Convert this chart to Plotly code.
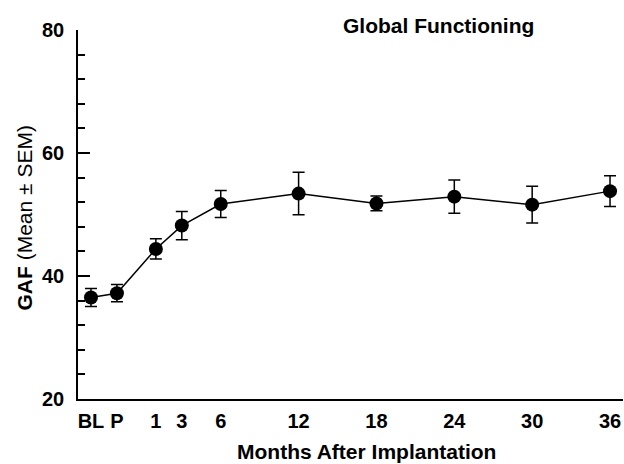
import plotly.graph_objects as go

tick_labels = ["BL", "P", "1", "3", "6", "12", "18", "24", "30", "36"]
months = [-4, -2, 1, 3, 6, 12, 18, 24, 30, 36]
gaf_mean = [36.5, 37.2, 44.4, 48.2, 51.7, 53.4, 51.8, 52.9, 51.6, 53.8]
gaf_sem = [1.45, 1.4, 1.65, 2.3, 2.2, 3.45, 1.2, 2.7, 3.0, 2.5]

FONT = "Liberation Sans, Arial, sans-serif"

fig = go.Figure()
fig.add_trace(go.Scatter(
    x=months, y=gaf_mean,
    mode="lines+markers",
    line=dict(color="black", width=1.5),
    marker=dict(symbol="circle", size=14, color="black"),
    error_y=dict(type="data", array=gaf_sem, visible=True,
                 color="black", thickness=1.5, width=6),
    showlegend=False,
))

fig.update_layout(
    width=624, height=464,
    margin=dict(l=78, r=1, t=30, b=65),
    paper_bgcolor="white", plot_bgcolor="white",
    font=dict(family=FONT, color="black"),
    xaxis=dict(
        range=[-5, 37], showgrid=False, zeroline=False,
        showline=True, linecolor="black", linewidth=1.5,
        tickmode="array", tickvals=months, ticktext=tick_labels,
        ticks="", tickfont=dict(size=20, weight="bold", family=FONT),
        ticklabelstandoff=3,
    ),
    yaxis=dict(
        range=[20, 80], showgrid=False, zeroline=False,
        showline=True, linecolor="black", linewidth=1.5,
        tickmode="array", tickvals=[20, 40, 60, 80],
        ticks="inside", ticklen=12, tickwidth=1.5, tickcolor="black",
        minor=dict(dtick=4, ticks="inside", ticklen=7, tickwidth=1.5, tickcolor="black"),
        tickfont=dict(size=20, weight="bold", family=FONT),
        ticklabelstandoff=8,
    ),
    annotations=[
        dict(text="<b>Global Functioning</b>", xref="paper", yref="paper",
             x=0, xshift=438 - 78, y=1, yshift=5, xanchor="center", yanchor="middle",
             showarrow=False, font=dict(size=21, family=FONT)),
        dict(text="<b>Months After Implantation</b>", xref="paper", yref="paper",
             x=0, xshift=366 - 78, y=0, yshift=-52, xanchor="center", yanchor="middle",
             showarrow=False, font=dict(size=21, family=FONT)),
        dict(text="<b>GAF</b> (Mean ± SEM)", xref="paper", yref="paper",
             x=0, xshift=24 - 78, y=0.5, yshift=-4, xanchor="center", yanchor="middle",
             textangle=-90, showarrow=False, font=dict(size=21, family=FONT)),
    ],
)

fig.write_html(
    "out.html",
    config={"displayModeBar": False},
    post_script="document.body.style.margin='0';document.body.style.overflow='hidden';",
)
